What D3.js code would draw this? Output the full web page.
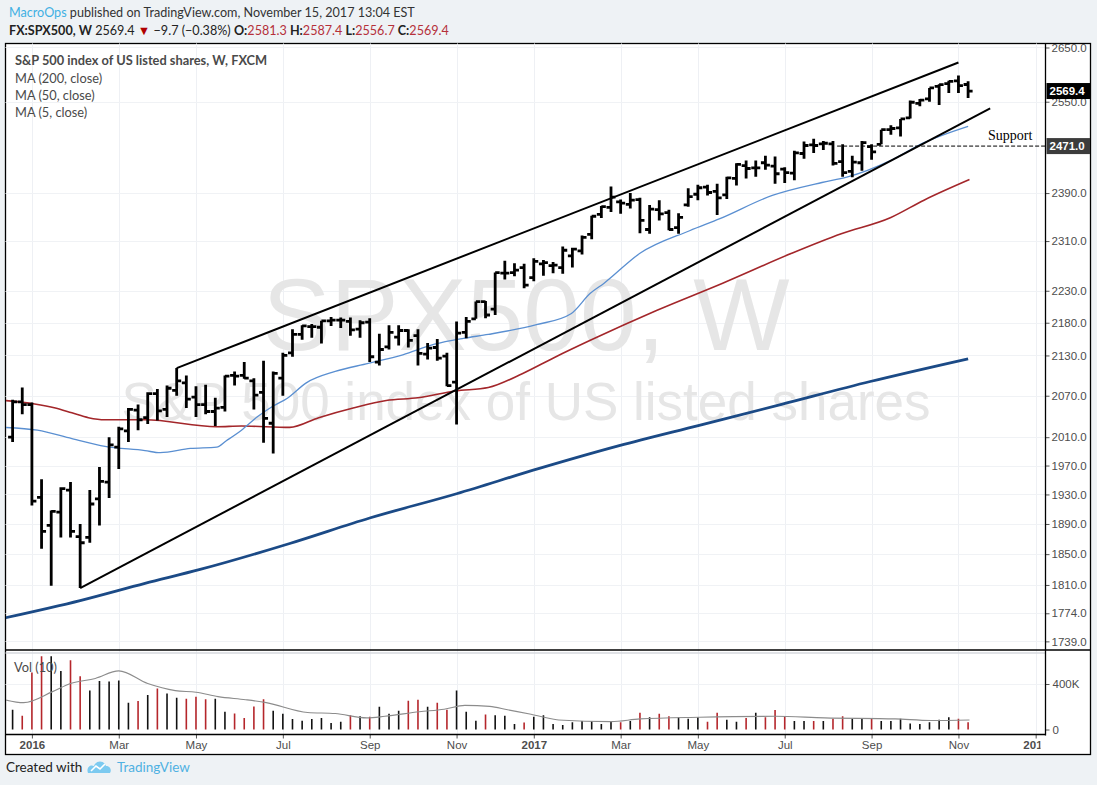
<!DOCTYPE html>
<html><head><meta charset="utf-8">
<script src="https://cdn.jsdelivr.net/npm/d3@7"></script>
<style>
html,body{margin:0;padding:0;background:#eef2f5;}
svg{display:block;font-family:"Liberation Sans",Arial,sans-serif;}
</style></head><body>
<svg id="c" width="1097" height="785"></svg>
<script>
// ---------- DATA ----------
const weeks = ["2015-12-21","2015-12-28",
"2016-01-04","2016-01-11","2016-01-18","2016-01-25","2016-02-01","2016-02-08","2016-02-15","2016-02-22","2016-02-29","2016-03-07","2016-03-14","2016-03-21","2016-03-28","2016-04-04","2016-04-11","2016-04-18","2016-04-25","2016-05-02","2016-05-09","2016-05-16","2016-05-23","2016-05-30","2016-06-06","2016-06-13","2016-06-20","2016-06-27","2016-07-04","2016-07-11","2016-07-18","2016-07-25","2016-08-01","2016-08-08","2016-08-15","2016-08-22","2016-08-29","2016-09-05","2016-09-12","2016-09-19","2016-09-26","2016-10-03","2016-10-10","2016-10-17","2016-10-24","2016-10-31","2016-11-07","2016-11-14","2016-11-21","2016-11-28","2016-12-05","2016-12-12","2016-12-19","2016-12-26",
"2017-01-02","2017-01-09","2017-01-16","2017-01-23","2017-01-30","2017-02-06","2017-02-13","2017-02-20","2017-02-27","2017-03-06","2017-03-13","2017-03-20","2017-03-27","2017-04-03","2017-04-10","2017-04-17","2017-04-24","2017-05-01","2017-05-08","2017-05-15","2017-05-22","2017-05-29","2017-06-05","2017-06-12","2017-06-19","2017-06-26","2017-07-03","2017-07-10","2017-07-17","2017-07-24","2017-07-31","2017-08-07","2017-08-14","2017-08-21","2017-08-28","2017-09-04","2017-09-11","2017-09-18","2017-09-25","2017-10-02","2017-10-09","2017-10-16","2017-10-23","2017-10-30","2017-11-06","2017-11-13"];

const openP  = [2010,2061,2057,1926,1888,1906,1936,1873,1872,1924,1947,1996,2019,2049,2038,2073,2050,2078,2089,2068,2057,2047,2053,2100,2100,2092,2075,2030,2096,2134,2162,2174,2173,2183,2184,2182,2170,2181,2120,2143,2158,2168,2160,2132,2142,2129,2090,2165,2186,2213,2201,2258,2259,2267,2251,2273,2270,2267,2286,2294,2321,2354,2366,2375,2371,2379,2329,2362,2357,2332,2370,2388,2400,2393,2387,2415,2437,2433,2442,2436,2431,2424,2458,2473,2475,2475,2444,2427,2442,2470,2474,2500,2503,2521,2547,2555,2578,2583,2588,2581.3];
const highP  = [2064,2082,2060,1951,1908,1940,1947,1890,1936,1968,2010,2025,2052,2057,2075,2080,2085,2111,2100,2084,2086,2067,2100,2106,2120,2096,2122,2106,2134,2170,2176,2178,2183,2189,2188,2188,2184,2187,2163,2176,2176,2170,2170,2149,2155,2134,2182,2189,2213,2214,2259,2278,2274,2273,2282,2279,2276,2301,2299,2319,2352,2368,2401,2379,2390,2382,2370,2378,2362,2356,2398,2404,2404,2406,2418,2441,2446,2446,2454,2453,2434,2463,2479,2484,2480,2480,2474,2454,2480,2474,2500,2508,2519,2552,2555,2575,2582,2588,2598,2587.4];
const lowP   = [2003,2043,1915,1857,1809,1872,1872,1806,1865,1888,1925,1965,2003,2020,2029,2034,2039,2070,2052,2039,2043,2026,2047,2085,2095,2050,2002,1987,2070,2128,2154,2157,2148,2175,2172,2160,2157,2120,2115,2139,2145,2142,2115,2124,2122,2084,2028,2156,2186,2187,2192,2248,2253,2234,2245,2254,2258,2257,2267,2288,2313,2348,2358,2355,2364,2323,2322,2344,2328,2322,2367,2378,2386,2353,2380,2403,2415,2418,2430,2406,2407,2412,2449,2459,2464,2437,2418,2417,2428,2447,2474,2491,2488,2520,2542,2550,2544,2566,2566,2556.7];
const closeP = [2061,2057,1921,1880,1907,1938,1880,1865,1917,1948,1999,2022,2050,2035,2073,2048,2081,2092,2065,2057,2047,2052,2099,2099,2096,2071,2037,2103,2130,2162,2175,2174,2183,2184,2184,2169,2180,2128,2139,2165,2168,2153,2133,2141,2126,2085,2164,2182,2213,2192,2259,2258,2263,2239,2277,2275,2271,2295,2297,2316,2351,2367,2383,2373,2378,2344,2363,2355,2329,2349,2384,2399,2391,2382,2416,2439,2432,2433,2438,2423,2425,2459,2472,2472,2476,2441,2425,2443,2477,2461,2500,2502,2519,2549,2553,2575,2581,2587,2579.1,2569.4];

// weekly volume, thousands
const volumeK = [173,120,502,644,644,515,609,468,342,427,422,431,236,250,303,360,316,280,271,289,266,271,155,140,102,203,266,164,138,93,78,93,102,58,68,125,116,111,200,138,164,253,262,200,236,173,342,155,78,132,125,120,49,62,111,125,49,40,63,75,75,49,69,63,75,148,107,139,116,107,94,107,69,148,85,69,102,148,107,171,116,75,75,75,75,94,116,94,94,94,75,75,94,53,49,63,85,107,94,63];

// moving averages (sample points)
const ma200Dates  = ["2015-12-15","2016-02-08","2016-03-26","2016-05-05","2016-07-09","2016-09-05","2016-11-07","2017-01-06","2017-03-05","2017-05-02","2017-06-30","2017-09-03","2017-11-13"];
const ma200Values = [1768,1790,1812,1830,1864,1898,1931,1966,1998,2027,2057,2091,2125];

const ma50Dates  = ["2015-12-15","2016-01-06","2016-01-21","2016-02-02","2016-02-14","2016-02-26","2016-03-26","2016-05-17","2016-06-04","2016-07-09","2016-07-30","2016-08-24","2016-09-17","2016-10-10","2016-11-06","2016-11-30","2016-12-25","2017-01-17","2017-02-12","2017-04-01","2017-05-19","2017-07-08","2017-08-13","2017-09-18","2017-10-12","2017-11-14"];
const ma50Values = [2063,2058,2052,2045,2038,2035,2035,2025,2026,2024,2038,2052,2063,2067,2077,2082,2103,2127,2153,2199,2242,2290,2322,2349,2378,2413];

const ma5Dates  = ["2015-12-15","2016-01-08","2016-02-02","2016-02-26","2016-03-26","2016-04-06","2016-04-28","2016-05-17","2016-05-24","2016-06-04","2016-06-16","2016-06-27","2016-07-07","2016-07-21","2016-08-11","2016-09-04","2016-09-29","2016-10-22","2016-11-12","2016-11-30","2017-01-04","2017-01-29","2017-02-12","2017-02-22","2017-03-20","2017-04-25","2017-05-17","2017-06-24","2017-07-30","2017-08-17","2017-09-18","2017-10-12","2017-11-13"];
const ma5Values = [2024,2020,2008,1997,1991,1988,1994,1996,2005,2020,2040,2055,2066,2089,2106,2118,2131,2147,2156,2162,2177,2194,2226,2242,2290,2327,2347,2386,2408,2417,2446,2477,2506];

const volMaDates  = ["2015-12-15","2015-12-29","2016-01-19","2016-02-01","2016-02-19","2016-03-07","2016-03-28","2016-04-17","2016-05-02","2016-05-18","2016-06-07","2016-06-22","2016-07-22","2016-08-11","2016-09-03","2016-09-16","2016-10-11","2016-10-29","2016-11-13","2016-12-01","2016-12-14","2016-12-31","2017-01-20","2017-02-27","2017-03-20","2017-05-02","2017-06-26","2017-08-01","2017-09-21","2017-10-17","2017-11-14"];
const volMaValues = [262,236,333,404,449,515,404,342,328,289,262,236,150,140,102,116,156,178,212,203,173,134,84,69,93,108,116,102,93,79,84];

// drawn annotations
const upperChannel = [["2016-04-18",2111],["2017-11-06",2622]];
const lowerChannel = [["2016-02-08",1806],["2017-11-29",2538]];
const supportLevel = {from:"2017-08-10", value:2471, label:"Support"};

const priceTicks = [2650,2550,2390,2310,2230,2180,2130,2070,2010,1970,1930,1890,1850,1810,1774,1739];
const volTicks = [0,400];
const monthTickDates  = ["2016-01-04","2016-03-07","2016-05-02","2016-07-04","2016-09-05","2016-11-07","2017-01-02","2017-03-06","2017-05-01","2017-07-03","2017-09-04","2017-11-06","2018-01-01"];
const monthTickLabels = ["2016","Mar","May","Jul","Sep","Nov","2017","Mar","May","Jul","Sep","Nov","2018"];

// ---------- LAYOUT ----------
const parse = d3.timeParse("%Y-%m-%d");
const L = 5.5, R = 1045.5, PT = 43.5, PB = 649.5, VT = 653, VB = 734.5, FB = 754.5, FR = 1090.5;
const svg = d3.select("#c");

const x = d3.scaleTime().domain([parse(weeks[0]), parse(weeks[weeks.length-1])]).range([12.6, 968.1]);
const y = d3.scaleLog().domain([1729, 2657.5]).range([PB, PT]);
const v = d3.scaleLinear().domain([0, 400]).range([729.5, 684]);

const defs = svg.append("defs");
defs.append("clipPath").attr("id","cp").append("rect").attr("x",L+0.5).attr("y",PT+0.5).attr("width",R-L-1).attr("height",PB-PT-1);
defs.append("clipPath").attr("id","cv").append("rect").attr("x",L+0.5).attr("y",VT+0.5).attr("width",R-L-1).attr("height",VB-VT-1);
defs.append("clipPath").attr("id","ct").append("rect").attr("x",L).attr("y",VB).attr("width",R-L-5).attr("height",FB-VB);

// frame
svg.append("rect").attr("x",L).attr("y",PT).attr("width",FR-L).attr("height",FB-PT)
  .attr("fill","#fff").attr("stroke","#000").attr("stroke-width",1.3);

// grid
const grid = svg.append("g");
grid.selectAll("line.v").data(monthTickDates).join("line")
  .attr("x1",d=>Math.round(x(parse(d)))+0.5).attr("x2",d=>Math.round(x(parse(d)))+0.5)
  .attr("y1",PT).attr("y2",VB).attr("stroke","#eef0f4").attr("stroke-width",1);
grid.selectAll("line.h").data(priceTicks).join("line")
  .attr("x1",L).attr("x2",R).attr("y1",d=>Math.round(y(d))+0.5).attr("y2",d=>Math.round(y(d))+0.5)
  .attr("stroke","#f0f2f5").attr("stroke-width",1);
grid.append("line").attr("x1",L).attr("x2",R).attr("y1",Math.round(v(400))+0.5).attr("y2",Math.round(v(400))+0.5)
  .attr("stroke","#f0f2f5");

// watermark
const wm = svg.append("g").attr("clip-path","url(#cp)").attr("fill","#e6e6e6").attr("text-anchor","middle");
wm.append("text").attr("x",526).attr("y",350).attr("font-size",102).text("SPX500, W");
wm.append("text").attr("x",526).attr("y",420).attr("font-size",53).text("S&P 500 index of US listed shares");

// price pane
const pp = svg.append("g").attr("clip-path","url(#cp)");
const lineGen = d3.line().curve(d3.curveMonotoneX);
function maPath(dates, vals){ return lineGen(dates.map((d,i)=>[x(parse(d)), y(vals[i])])); }
pp.append("path").attr("d",maPath(ma200Dates,ma200Values)).attr("fill","none").attr("stroke","#1b4a86").attr("stroke-width",2.8);
pp.append("path").attr("d",maPath(ma50Dates,ma50Values)).attr("fill","none").attr("stroke","#a3262a").attr("stroke-width",1.6);
pp.append("path").attr("d",maPath(ma5Dates,ma5Values)).attr("fill","none").attr("stroke","#5a8fd1").attr("stroke-width",1.3);

// OHLC bars
const bars = weeks.map((d,i)=>({d:parse(d),o:openP[i],h:highP[i],l:lowP[i],c:closeP[i],vol:volumeK[i]}));
pp.append("g").selectAll("path").data(bars).join("path")
  .attr("d",b=>{const X=x(b.d);return `M${X},${y(b.h)}V${y(b.l)}M${X-4.5},${y(b.o)}H${X}M${X},${y(b.c)}H${X+4.5}`;})
  .attr("fill","none").attr("stroke","#000").attr("stroke-width",2.8);

// channel lines
[upperChannel, lowerChannel].forEach(seg=>{
  pp.append("line").attr("x1",x(parse(seg[0][0]))).attr("y1",y(seg[0][1]))
    .attr("x2",x(parse(seg[1][0]))).attr("y2",y(seg[1][1]))
    .attr("stroke","#000").attr("stroke-width",2);
});
// support
const sy = y(supportLevel.value);
pp.append("line").attr("x1",x(parse(supportLevel.from))).attr("x2",R).attr("y1",sy).attr("y2",sy)
  .attr("stroke","#000").attr("stroke-width",1).attr("stroke-dasharray","4,2");
pp.append("text").attr("x",988).attr("y",sy-6).attr("font-family","'Liberation Serif','DejaVu Serif',serif")
  .attr("font-size",14).attr("fill","#000").text(supportLevel.label);

// legend
const lg = svg.append("g").attr("font-family","Lato,'Open Sans',sans-serif").attr("font-size",12.8).attr("fill","#4a4a4a");
lg.append("text").attr("x",15).attr("y",65).attr("font-weight","bold").text("S&P 500 index of US listed shares, W, FXCM");
lg.append("text").attr("x",15).attr("y",83).text("MA (200, close)");
lg.append("text").attr("x",15).attr("y",100).text("MA (50, close)");
lg.append("text").attr("x",15).attr("y",117).text("MA (5, close)");

// pane separator
svg.append("line").attr("x1",L).attr("x2",FR).attr("y1",PB+0.5).attr("y2",PB+0.5).attr("stroke","#000").attr("stroke-width",1.3);
svg.append("line").attr("x1",L).attr("x2",R).attr("y1",VT).attr("y2",VT).attr("stroke","#d6d9de").attr("stroke-width",1.5);

// volume pane
const vp = svg.append("g").attr("clip-path","url(#cv)");
vp.selectAll("line").data(bars).join("line")
  .attr("x1",b=>x(b.d)).attr("x2",b=>x(b.d)).attr("y1",v(0)).attr("y2",b=>v(b.vol))
  .attr("stroke",b=>b.c<b.o?"#b5262b":"#111").attr("stroke-width",1.6);
vp.append("path").attr("d",lineGen(volMaDates.map((d,i)=>[x(parse(d)), v(volMaValues[i])])))
  .attr("fill","none").attr("stroke","#8c8c8c").attr("stroke-width",1.1);
svg.append("text").attr("x",14).attr("y",672).attr("font-family","Lato,'Open Sans',sans-serif")
  .attr("font-size",12.8).attr("fill","#4a4a4a").text("Vol (10)");

// price axis
const pa = svg.append("g").attr("transform",`translate(${R},0)`)
  .call(d3.axisRight(y).tickValues(priceTicks).tickFormat(d3.format(".1f")).tickSize(4).tickPadding(2));
pa.select(".domain").remove();
pa.selectAll("text").attr("font-size",11.5).attr("fill","#4d4d4d").attr("font-family","'Liberation Sans',Arial,sans-serif");
pa.selectAll("line").attr("stroke","#555");
const va = svg.append("g").attr("transform",`translate(${R},0)`)
  .call(d3.axisRight(v).tickValues(volTicks).tickFormat(d=>d?d+"K":"0").tickSize(4).tickPadding(3));
va.select(".domain").remove();
va.selectAll("text").attr("font-size",11.5).attr("fill","#4d4d4d").attr("font-family","'Liberation Sans',Arial,sans-serif");
va.selectAll("line").attr("stroke","#555");
svg.append("line").attr("x1",R).attr("x2",R).attr("y1",PT).attr("y2",VB+1).attr("stroke","#000").attr("stroke-width",1.3);

// price labels on axis
function priceTag(val, fill){
  const yy = y(val);
  svg.append("rect").attr("x",R+1).attr("y",yy-8).attr("width",FR-R-1.5).attr("height",16).attr("fill",fill);
  svg.append("text").attr("x",R+4).attr("y",yy+4).attr("font-size",11.5).attr("font-weight","bold")
    .attr("fill","#fff").text(val.toFixed(1));
}
priceTag(closeP[closeP.length-1], "#000");
priceTag(supportLevel.value, "#3c3c3c");

// time axis (clipped wrapper without transform)
const taWrap = svg.append("g").attr("clip-path","url(#ct)");
const ta = taWrap.append("g").attr("transform",`translate(0,${VB})`)
  .call(d3.axisBottom(x).tickValues(monthTickDates.map(parse)).tickFormat((d,i)=>monthTickLabels[i]).tickSize(4).tickPadding(2));
ta.select(".domain").remove();
ta.selectAll("text").attr("font-size",11.5).attr("fill","#4d4d4d").attr("font-family","'Liberation Sans',Arial,sans-serif")
  .attr("font-weight",(d,i)=>/^\d{4}$/.test(monthTickLabels[i])?"bold":"normal");
ta.selectAll("line").attr("stroke","#555");
svg.append("line").attr("x1",L).attr("x2",R).attr("y1",VB).attr("y2",VB).attr("stroke","#000").attr("stroke-width",1.3);

// header
const hd = svg.append("g").attr("font-family","Lato,'Open Sans',sans-serif").attr("font-size",12.6);
const h1 = hd.append("text").attr("x",9).attr("y",17).attr("fill","#333");
h1.append("tspan").attr("fill","#3fb0e3").text("MacroOps");
h1.append("tspan").text(" published on TradingView.com, November 15, 2017 13:04 EST");
const last = closeP.length-1;
const chg = closeP[last]-closeP[last-1];
const h2 = hd.append("text").attr("x",9).attr("y",35).attr("fill","#222").attr("font-size",12.6);
h2.append("tspan").attr("font-weight","bold").text("FX:SPX500, W");
h2.append("tspan").text("  "+closeP[last].toFixed(1)+" ");
h2.append("tspan").attr("fill","#b00000").text("▼");
h2.append("tspan").text(" −"+Math.abs(chg).toFixed(1)+" (−"+Math.abs(chg/closeP[last-1]*100).toFixed(2)+"%) ");
[["O:",openP[last]],["H:",highP[last]],["L:",lowP[last]],["C:",closeP[last]]].forEach(([k,val],j)=>{
  h2.append("tspan").attr("font-weight","bold").text((j?" ":"")+k);
  h2.append("tspan").attr("fill","#b5303a").text(val.toFixed(1));
});

// footer
const ft = svg.append("g").attr("font-family","Lato,'Open Sans',sans-serif").attr("font-size",13.5);
ft.append("text").attr("x",6).attr("y",772).attr("fill","#222").text("Created with");
ft.append("path").attr("d","M88,773 C86,768 90,764 94,766 C96,760 104,760 106,766 C110,766 112,770 110,773 Z").attr("fill","#7ccaf0");
ft.append("path").attr("d","M91,771 L96,766 L100,769 L105,764").attr("fill","none").attr("stroke","#fff").attr("stroke-width",1.6);
ft.append("text").attr("x",117).attr("y",772).attr("fill","#4fb1e2").text("TradingView");
</script>
</body></html>
